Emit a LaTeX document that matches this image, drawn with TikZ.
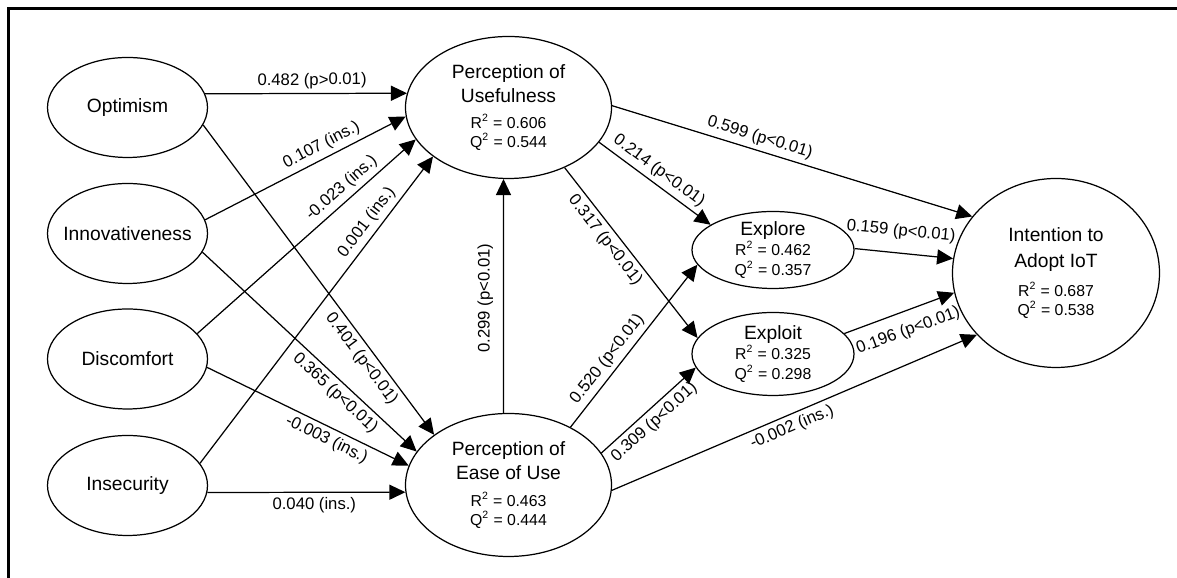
\documentclass[tikz,border=0pt,11pt]{standalone}
\usepackage{fontspec}
\setmainfont{Liberation Sans}
\usetikzlibrary{arrows.meta,shapes.geometric}

\begin{document}
\begin{tikzpicture}[
    line width=0.7pt,
    >={Triangle[length=3.2mm,width=3mm]},
    latent/.style={draw, ellipse, inner xsep=-4mm, inner ysep=-2mm, align=center, font=\normalsize},
    coef/.style={font=\fontsize{9.5}{11}\selectfont, sloped, inner sep=2.5pt}
]
    % Canvas and the frame (top and left only)
    \useasboundingbox (0, 0) rectangle (23.54, 11.56);
    \draw[line width=1.4pt] (0.17, 0) -- (0.17, 11.39) -- (23.54, 11.39);

    % Antecedents
    \node[latent, minimum width=3.2cm, minimum height=2cm] (opt) at (2.55, 9.41) {Optimism};
    \node[latent, minimum width=3.2cm, minimum height=2cm] (inn) at (2.55, 6.89) {Innovativeness};
    \node[latent, minimum width=3.2cm, minimum height=2cm] (dis) at (2.55, 4.38) {Discomfort};
    \node[latent, minimum width=3.2cm, minimum height=2cm] (ins) at (2.55, 1.85) {Insecurity};

    % Perceptions
    \node[latent, minimum width=4.12cm, minimum height=2.84cm] (pu) at (10.17, 9.41) {
    Perception of\\Usefulness\\[1.5pt]
    {\footnotesize R\textsuperscript{2} = 0.606}\\[-2.8pt]
    {\footnotesize Q\textsuperscript{2} = 0.544}
    };
    \node[latent, minimum width=4.12cm, minimum height=2.86cm] (peu) at (10.17, 1.86) {
    Perception of\\Ease of Use\\[1.5pt]
    {\footnotesize R\textsuperscript{2} = 0.463}\\[-2.8pt]
    {\footnotesize Q\textsuperscript{2} = 0.444}
    };

    % Explore / Exploit
    \node[latent, minimum width=3.24cm, minimum height=1.54cm] (exr) at (15.46, 6.56) {
    Explore\\[-2.2pt]
    {\footnotesize R\textsuperscript{2} = 0.462}\\[-2.2pt]
    {\footnotesize Q\textsuperscript{2} = 0.357}
    };
    \node[latent, minimum width=3.24cm, minimum height=1.66cm] (exi) at (15.46, 4.48) {
    Exploit\\[-2.2pt]
    {\footnotesize R\textsuperscript{2} = 0.325}\\[-2.2pt]
    {\footnotesize Q\textsuperscript{2} = 0.298}
    };

    % Outcome
    \node[latent, minimum width=4.14cm, minimum height=3.78cm] (ita) at (21.12, 6.10) {
    Intention to\\[1pt]Adopt IoT\\[2.7pt]
    {\footnotesize R\textsuperscript{2} = 0.687}\\[-2.8pt]
    {\footnotesize Q\textsuperscript{2} = 0.538}
    };

    % Paths into Perception of Usefulness
    \draw[->] (opt.10) -- node[coef, above, pos=0.53] {0.482 (p>0.01)} (pu.172);
    \draw[->] (inn.10) -- node[coef, above, pos=0.61] {0.107 (ins.)} (pu.185);
    \draw[->] (dis.20) -- node[coef, above, pos=0.70] {-0.023 (ins.)} (pu.199);
    \draw[->] (ins.17) -- node[coef, above, pos=0.76] {0.001 (ins.)} (pu.213);

    % Paths into Perception of Ease of Use
    \draw[->] (opt.-13) -- node[coef, below, pos=0.73] {0.401 (p<0.01)} (peu.146);
    \draw[->] (inn.-14) -- node[coef, below, pos=0.66] {0.365 (p<0.01)} (peu.160);
    \draw[->] (dis.-6) -- node[coef, below, pos=0.62] {-0.003 (ins.)} (peu.169);
    \draw[->] (ins.-5) -- node[coef, below, pos=0.54] {0.040 (ins.)} (peu.184);

    % Ease of use -> usefulness
    \draw[->] (peu.94) -- node[coef, above=3pt, pos=0.49] {0.299 (p<0.01)} (pu.266);

    % Perceptions -> explore, exploit, intention
    \draw[->] (pu.-21) -- node[coef, above, pos=0.47] {0.214 (p<0.01)} (exr.158);
    \draw[->] (pu.-47) -- node[coef, below, pos=0.38] {0.317 (p<0.01)} (exi.168);
    \draw[->] (pu.1) -- node[coef, above, pos=0.40] {0.599 (p<0.01)} (ita.146);
    \draw[->] (peu.43) -- node[coef, above, pos=0.37] {0.520 (p<0.01)} (exr.191);
    \draw[->] (peu.19) -- node[coef, below, pos=0.47] {0.309 (p<0.01)} (exi.190);
    \draw[->] (peu.-3) -- node[coef, below, pos=0.48] {-0.002 (ins.)} (ita.218);

    % Explore / Exploit -> intention
    \draw[->] (exr.1) -- node[coef, above=5pt, pos=0.45] {0.159 (p<0.01)} (ita.172);
    \draw[->] (exi.16) -- node[coef, below=4pt, pos=0.52] {0.196 (p<0.01)} (ita.191);

\end{tikzpicture}
\end{document}
